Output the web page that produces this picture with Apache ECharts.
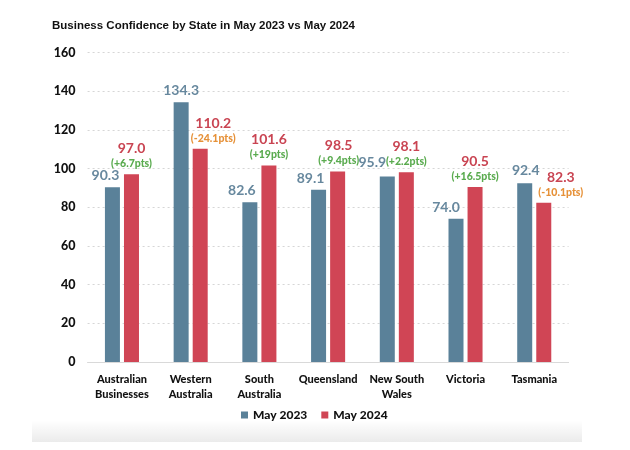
<!DOCTYPE html>
<html>
<head>
<meta charset="utf-8">
<style>html,body{margin:0;padding:0;background:#fff;}#c{width:630px;height:450px;}</style>
<script src="https://cdn.jsdelivr.net/npm/echarts@6/dist/echarts.min.js"></script>
</head>
<body>
<div id="c"></div>
<script>
var categories = ['Australian\nBusinesses', 'Western\nAustralia', 'South\nAustralia', 'Queensland', 'New South\nWales', 'Victoria', 'Tasmania'];
var may2023 = [90.3, 134.3, 82.6, 89.1, 95.9, 74.0, 92.4];
var may2024 = [97.0, 110.2, 101.6, 98.5, 98.1, 90.5, 82.3];
var changeLabels = ['(+6.7pts)', '(-24.1pts)', '(+19pts)', '(+9.4pts)', '(+2.2pts)', '(+16.5pts)', '(-10.1pts)'];
var yMin = 0, yMax = 160, yStep = 20;
var seriesNames = ['May 2023', 'May 2024'];

// label nudges (layout only)
var blueNudge = [[-7,0],[0,0],[-8,0],[-8,0],[-15,-3],[-10,0],[1,-1]];
var redNudge = [[0,0],[13,0],[0,0],[1,0],[0,0],[0,0],[17,0]];

var BLUE = '#5a8199', RED = '#d04555';
var BLUE_T = '#67889e', RED_T = '#c94452', GREEN = '#5aab4f', ORANGE = '#e69138';
var FONT = 'Lato, "Noto Sans", sans-serif';
var W = 900;

var chart = echarts.init(document.getElementById('c'));
chart.setOption({
  backgroundColor: '#fff',
  animation: false,
  title: {
    text: 'Business Confidence by State in May 2023 vs May 2024',
    left: 52, top: 20, padding: 0,
    textStyle: { fontFamily: '"Liberation Sans", Arial, sans-serif', fontSize: 11.5, fontWeight: 'bold', color: '#111' }
  },
  grid: { left: 87.6, top: 52.5, width: 481, height: 309.5 },
  legend: {
    data: seriesNames, left: 241, top: 409, padding: 0,
    icon: 'rect', itemWidth: 7, itemHeight: 7, itemGap: 14,
    textStyle: { fontFamily: FONT, fontSize: 12, fontWeight: W, color: '#111' }
  },
  xAxis: {
    type: 'category', data: categories,
    axisLine: { lineStyle: { color: '#d9d9d9', width: 1 } },
    axisTick: { show: false },
    axisLabel: { fontFamily: FONT, fontSize: 11, fontWeight: W, color: '#111', lineHeight: 15, margin: 10, interval: 0 }
  },
  yAxis: {
    type: 'value', min: yMin, max: yMax, interval: yStep,
    axisLine: { show: false }, axisTick: { show: false },
    axisLabel: { fontFamily: FONT, fontSize: 12.5, fontWeight: W, color: '#111', margin: 12 },
    splitLine: { lineStyle: { color: '#d6d6d6', type: [2, 3], width: 1 } }
  },
  series: [
    {
      name: seriesNames[0], type: 'bar', barWidth: 15, barGap: '27%',
      itemStyle: { color: BLUE },
      data: may2023.map(function (v, i) {
        return { value: v, label: { offset: blueNudge[i] } };
      }),
      label: {
        show: true, position: 'top', distance: 3.5,
        formatter: function (p) { return p.value.toFixed(1); },
        fontFamily: FONT, fontSize: 14, fontWeight: 'bold', color: BLUE_T, lineHeight: 16
      }
    },
    {
      name: seriesNames[1], type: 'bar', barWidth: 15,
      itemStyle: { color: RED },
      data: may2024.map(function (v, i) {
        return { value: v, label: { offset: redNudge[i] } };
      }),
      label: {
        show: true, position: 'top', distance: 3.5,
        formatter: function (p) {
          var c = changeLabels[p.dataIndex];
          var k = c.indexOf('-') >= 0 ? 'n' : 'g';
          return '{v|' + p.value.toFixed(1) + '}\n{' + k + '|' + c + '}';
        },
        rich: {
          v: { fontFamily: FONT, fontSize: 14, fontWeight: 'bold', color: RED_T, lineHeight: 16, align: 'center' },
          g: { fontFamily: FONT, fontSize: 10.5, fontWeight: W, color: GREEN, lineHeight: 14, align: 'center' },
          n: { fontFamily: FONT, fontSize: 10.5, fontWeight: W, color: ORANGE, lineHeight: 14, align: 'center' }
        }
      }
    }
  ],
  graphic: [{
    type: 'rect', silent: true, z: -1,
    shape: { x: 32, y: 420, width: 550, height: 22 },
    style: { fill: new echarts.graphic.LinearGradient(0, 0, 0, 1, [
      { offset: 0, color: 'rgba(0,0,0,0)' }, { offset: 1, color: 'rgba(0,0,0,0.08)' }
    ]) }
  }]
});
</script>
</body>
</html>
